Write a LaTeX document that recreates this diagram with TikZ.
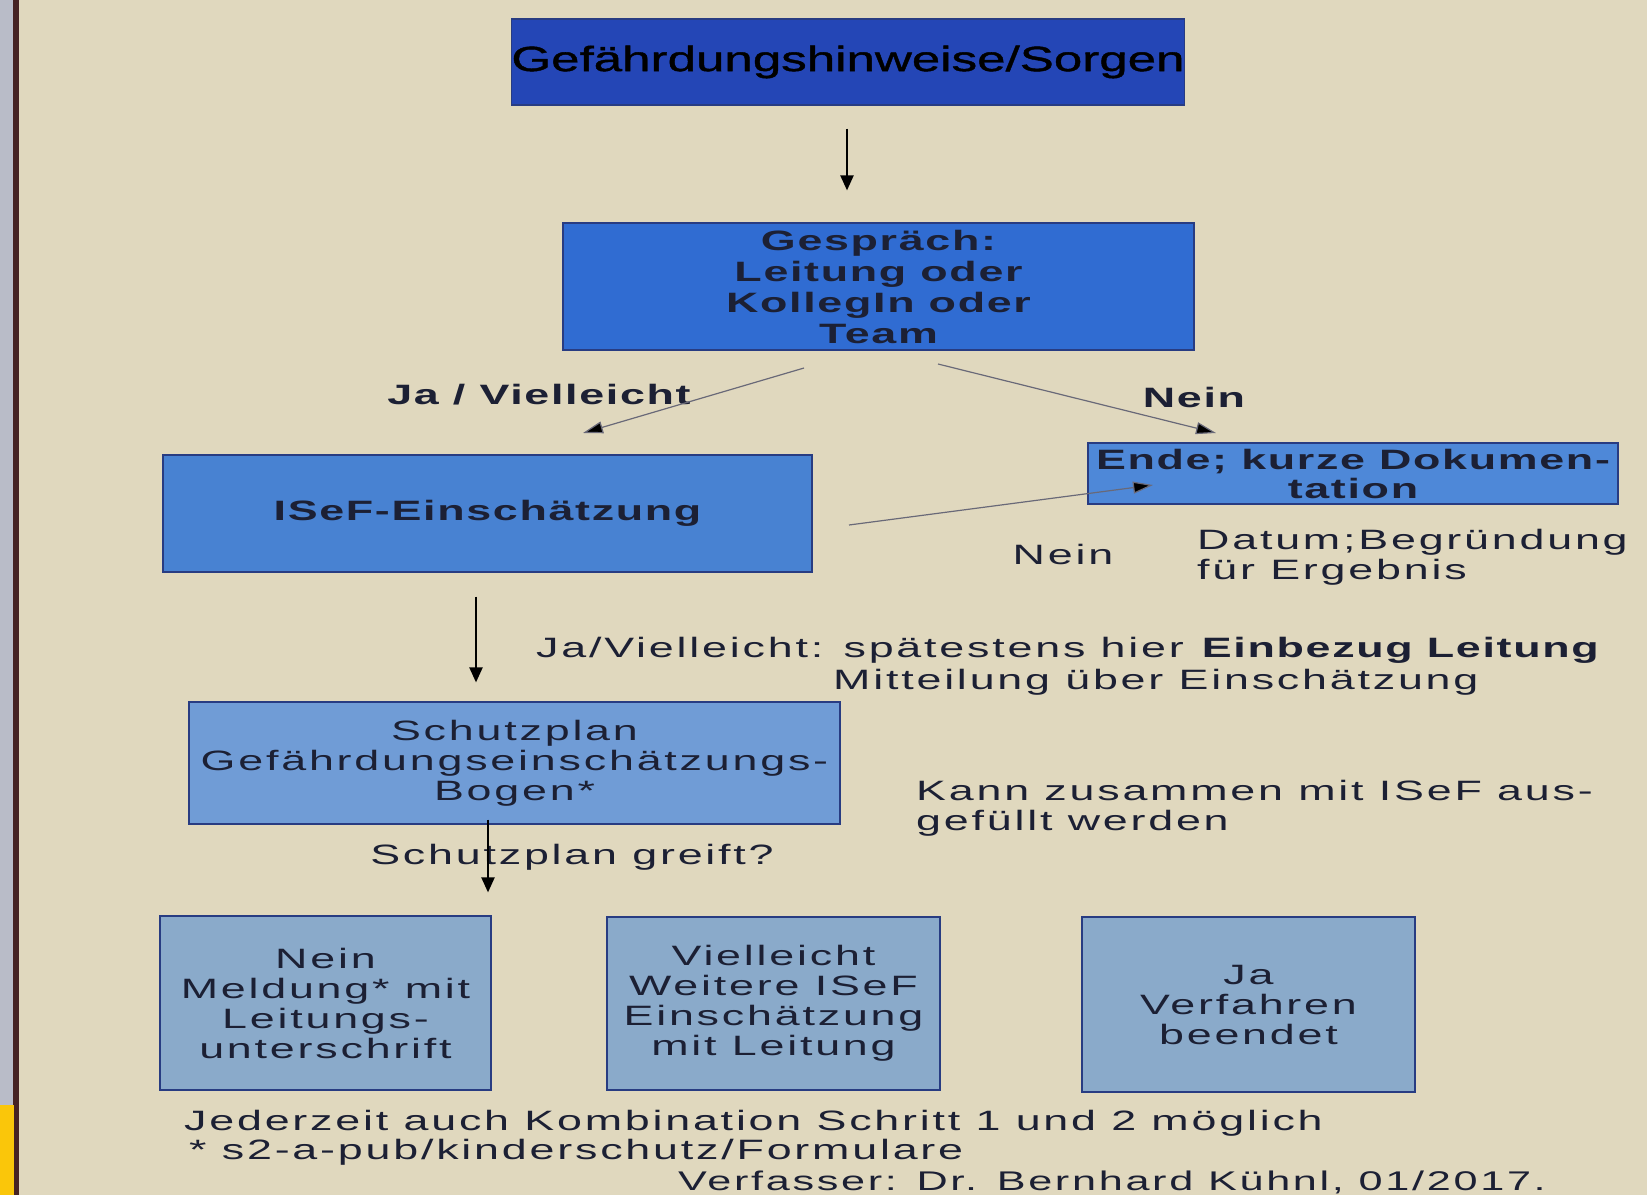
\documentclass[tikz,border=0pt]{standalone}
\usepackage{fontspec}
\setmainfont{Liberation Sans}[FakeStretch=1.6,LetterSpace=10,BoldFeatures={LetterSpace=6}]
\newfontfamily\topfont{Liberation Sans}[FakeStretch=1.46,FakeBold=1.2]
\usetikzlibrary{arrows.meta}
\definecolor{bgc}{RGB}{224,216,190}
\definecolor{txt}{RGB}{28,32,52}
\definecolor{cTop}{RGB}{36,70,182}
\definecolor{cGes}{RGB}{48,108,210}
\definecolor{cIse}{RGB}{72,130,210}
\definecolor{cEnd}{RGB}{78,136,216}
\definecolor{cSch}{RGB}{112,156,214}
\definecolor{cBot}{RGB}{138,170,202}
\definecolor{bord}{RGB}{40,60,130}
\definecolor{thinline}{RGB}{105,105,120}
\definecolor{bezel}{RGB}{70,35,35}
\definecolor{strip}{RGB}{185,188,200}
\definecolor{yel}{RGB}{250,198,10}
\begin{document}
\begin{tikzpicture}[x=1pt,y=-1pt,
  box/.style={draw=bord, line width=1.2pt, inner sep=0pt, align=center, text=txt,
    font=\fontsize{28}{30}\selectfont},
  lbl/.style={inner sep=0pt, text=txt, font=\fontsize{28}{30}\selectfont, align=left},
  varr/.style={line width=2.2pt, draw=black, -{Triangle[width=13pt,length=15pt]}},
  darr/.style={line width=1.2pt, draw=thinline, -{Triangle[width=12pt,length=20pt,fill=black]}}
]
\useasboundingbox (0,0) rectangle (1647,1195);
\fill[bgc] (0,0) rectangle (1647,1195);
\fill[strip] (0,0) rectangle (13,1195);
\fill[bezel] (13,0) rectangle (19,1195);
\fill[yel] (0,1105) rectangle (14,1195);

% boxes
\node[box, fill=cTop, draw=bord, minimum width=668pt, minimum height=86pt,
  font=\topfont\fontsize{35}{40}\selectfont, text=black] (top) at (848,62) {Gefährdungshinweise/Sorgen};
\node[box, fill=cGes, minimum width=631pt, minimum height=127pt, font=\bfseries\fontsize{28}{31}\selectfont]
  (gesp) at (878.5,286.5) {Gespräch:\\Leitung oder\\KollegIn oder\\Team};
\node[box, fill=cIse, minimum width=649pt, minimum height=117pt, font=\bfseries\fontsize{28}{30}\selectfont]
  (isef) at (487.5,513.5) {ISeF-Einschätzung};
\node[box, fill=cEnd, minimum width=530pt, minimum height=61pt, font=\bfseries\fontsize{28}{29}\selectfont]
  (ende) at (1353,473.5) {Ende; kurze Dokumen-\\tation};
\node[box, fill=cSch, minimum width=651pt, minimum height=122pt]
  (schutz) at (514.5,763) {Schutzplan\\Gefährdungseinschätzungs-\\Bogen*};
\node[box, fill=cBot, minimum width=331pt, minimum height=174pt]
  (nein) at (325.5,1003) {Nein\\Meldung* mit\\Leitungs-\\unterschrift};
\node[box, fill=cBot, minimum width=333pt, minimum height=173pt]
  (viell) at (773.5,1003.5) {Vielleicht\\Weitere ISeF\\Einschätzung\\mit Leitung};
\node[box, fill=cBot, minimum width=333pt, minimum height=175pt]
  (ja) at (1248.5,1004.5) {Ja\\Verfahren\\beendet};

% labels
\node[lbl, font=\bfseries\fontsize{28}{30}\selectfont] (lJa) at (539,395) {Ja / Vielleicht};
\node[lbl, font=\bfseries\fontsize{28}{30}\selectfont] (lNein) at (1194,397) {Nein};
\node[lbl] (lNein2) at (1063,554) {Nein};
\node[lbl, anchor=west] (lDatum) at (1197,557) {Datum;Begründung\\für Ergebnis};
\node[lbl, anchor=west] (lEinb) at (536,650) {Ja/Vielleicht: spätestens hier \textbf{Einbezug Leitung}};
\node[lbl, anchor=west] (lMitt) at (833,682) {Mitteilung über Einschätzung};
\node[lbl, anchor=west] (lKann) at (916,808) {Kann zusammen mit ISeF aus-\\gefüllt werden};
\node[lbl] (lGreift) at (572,857) {Schutzplan greift?};
\node[lbl, anchor=west] (lJed) at (184,1123) {Jederzeit auch Kombination Schritt 1 und 2 möglich};
\node[lbl, anchor=west] (lForm) at (189,1152) {* s2-a-pub/kinderschutz/Formulare};
\node[lbl, anchor=west, font=\fontsize{27}{30}\selectfont] (lVerf) at (678,1182) {Verfasser: Dr. Bernhard Kühnl, 01/2017.};

% connector end points
\coordinate (g1) at (804,368);
\coordinate (i1) at (583,433);
\coordinate (g2) at (938,364);
\coordinate (e1) at (1216,433);
\coordinate (i2) at (849,525);
\coordinate (e2) at (1153,485);

% connectors
\draw[varr, shorten <=23pt, shorten >=32pt] (top.south -| 847,0) -- (gesp.north -| 847,0);
\draw[darr] (g1) -- (i1);
\draw[darr] (g2) -- (e1);
\draw[darr] (i2) -- (e2);
\draw[varr, shorten <=24pt, shorten >=19pt] (isef.south -| 476,0) -- (schutz.north -| 476,0);
\draw[varr, shorten <=-5pt, shorten >=23pt] (schutz.south -| 488,0) -- (nein.north -| 488,0);
\end{tikzpicture}
\end{document}
